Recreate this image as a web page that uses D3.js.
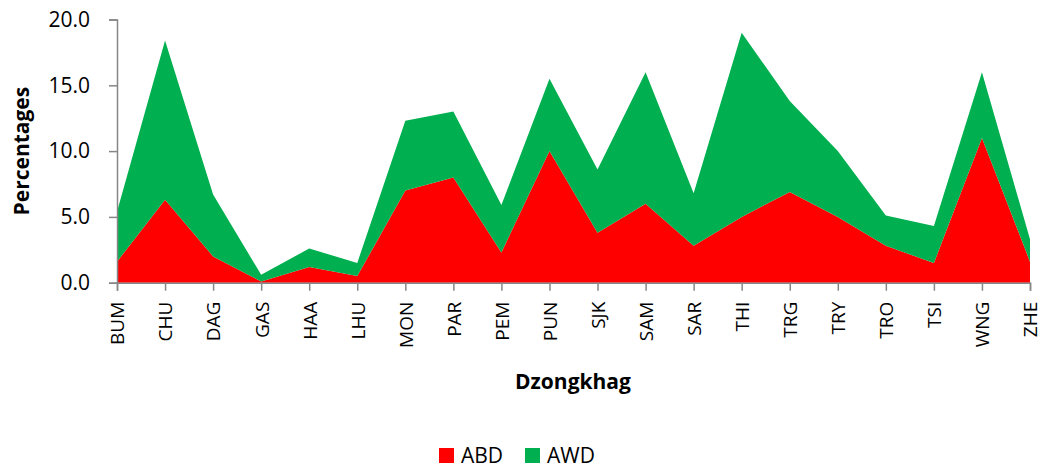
<!DOCTYPE html>
<html>
<head>
<meta charset="utf-8">
<script src="https://cdn.jsdelivr.net/npm/d3@7"></script>
<style>
	body { margin: 0; background: #fff; }
	text { font-family: "Open Sans", Lato, sans-serif; fill: #000; }
</style>
</head>
<body>
<svg id="chart" width="1039" height="468"></svg>
<script>
var dzongkhags = ["BUM", "CHU", "DAG", "GAS", "HAA", "LHU", "MON", "PAR", "PEM", "PUN",
	"SJK", "SAM", "SAR", "THI", "TRG", "TRY", "TRO", "TSI", "WNG", "ZHE"];
var abd = [1.6, 6.3, 2.0, 0.1, 1.2, 0.5, 7.0, 8.0, 2.3, 10.0,
	3.8, 6.0, 2.8, 5.0, 6.9, 5.0, 2.8, 1.5, 11.0, 1.6];
var awd = [3.8, 12.1, 4.7, 0.5, 1.4, 1.0, 5.3, 5.0, 3.6, 5.5,
	4.8, 10.0, 4.0, 14.0, 6.9, 5.0, 2.3, 2.8, 5.0, 1.7];
var yTicks = [0, 5, 10, 15, 20];
var seriesNames = ["ABD", "AWD"];
var colors = {ABD: "#ff0000", AWD: "#00b050"};

var rows = dzongkhags.map(function(d, i) {
	return {name: d, ABD: abd[i], AWD: awd[i]};
});

var svg = d3.select("#chart");
var plotLeft = 117, plotRight = 1030, plotTop = 19.5, plotBottom = 282.7;

var x = d3.scalePoint().domain(dzongkhags).range([plotLeft, plotRight]);
var y = d3.scaleLinear().domain([0, 20]).range([plotBottom, plotTop]);

var stack = d3.stack().keys(seriesNames);
var layers = stack(rows);

var area = d3.area()
	.x(function(d) { return x(d.data.name); })
	.y0(function(d) { return y(d[0]); })
	.y1(function(d) { return y(d[1]); });

svg.selectAll("path.layer")
	.data(layers)
	.enter().append("path")
	.attr("class", "layer")
	.attr("d", area)
	.attr("fill", function(d) { return colors[d.key]; });

// y axis
var yAxis = svg.append("g")
	.attr("transform", "translate(" + plotLeft + ",0)")
	.call(d3.axisLeft(y).tickValues(yTicks).tickFormat(d3.format(".1f")).tickSize(8).tickPadding(19));
yAxis.selectAll("text").style("font-size", "21px");

// x axis
var xAxis = svg.append("g")
	.attr("transform", "translate(0," + plotBottom + ")")
	.call(d3.axisBottom(x).tickSize(8).tickPadding(8));
xAxis.selectAll("text")
	.style("font-size", "19px")
	.attr("text-anchor", "end")
	.attr("dy", "0.36em")
	.attr("transform", "rotate(-90)")
	.attr("x", -19)
	.attr("y", 0);

svg.selectAll(".domain, .tick line")
	.attr("stroke", "#868686")
	.attr("stroke-width", 1.5);

// axis titles
svg.append("text")
	.attr("transform", "translate(29," + ((plotTop + plotBottom) / 2) + ") rotate(-90)")
	.attr("text-anchor", "middle")
	.style("font-size", "21px")
	.style("font-weight", "bold")
	.text("Percentages");

svg.append("text")
	.attr("x", 573)
	.attr("y", 389)
	.attr("text-anchor", "middle")
	.style("font-size", "21px")
	.style("font-weight", "bold")
	.text("Dzongkhag");

// legend
var legend = svg.append("g").attr("transform", "translate(439,448)");
var lx = 0;
seriesNames.forEach(function(s) {
	legend.append("rect")
		.attr("x", lx).attr("y", 0)
		.attr("width", 15).attr("height", 15)
		.attr("fill", colors[s]);
	legend.append("text")
		.attr("x", lx + 22).attr("y", 15)
		.style("font-size", "21px")
		.text(s);
	lx += 86;
});
</script>
</body>
</html>
